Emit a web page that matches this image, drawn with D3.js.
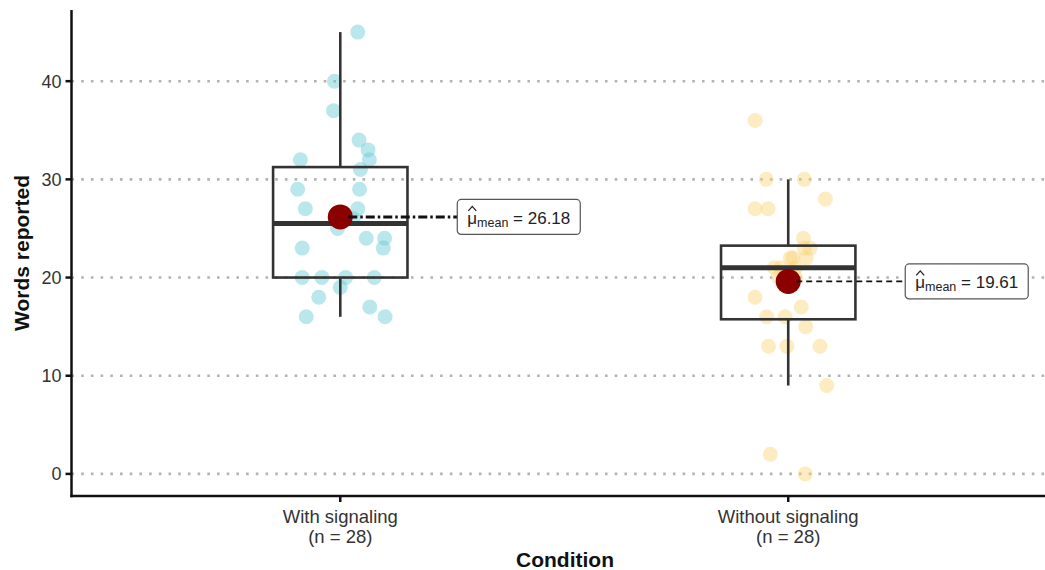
<!DOCTYPE html>
<html>
<head>
<meta charset="utf-8">
<script src="https://cdn.jsdelivr.net/npm/d3@7"></script>
<style>
  body { margin: 0; background: #ffffff; }
  svg { display: block; font-family: "Liberation Sans", Arial, Helvetica, sans-serif; }
</style>
</head>
<body>
<svg id="chart" width="1045" height="570"></svg>
<script>
// ---- data ----
const conditions = ["With signaling", "Without signaling"];
const sampleSizes = [28, 28];

const withSignaling = [45, 40, 37, 34, 33, 32, 32, 31, 29, 29, 27, 27, 26, 26,
                       25, 24, 24, 23, 23, 20, 20, 20, 20, 19, 18, 17, 16, 16];
const withoutSignaling = [36, 30, 30, 28, 27, 27, 24, 23, 23, 22, 22, 22, 21, 21,
                          21, 20, 20, 18, 17, 16, 16, 15, 13, 13, 13, 9, 2, 0];

// horizontal jitter of each observation, in category units
const jitterWith = [0.039, -0.013, -0.015, 0.042, 0.062, 0.065, -0.089, 0.045, -0.095, 0.043,
                    -0.078, 0.039, -0.011, 0.029, -0.006, 0.058, 0.099, -0.085, 0.096, -0.085,
                    -0.041, 0.012, 0.076, 0.000, -0.048, 0.066, -0.076, 0.100];
const jitterWithout = [-0.074, -0.049, 0.036, 0.083, -0.074, -0.045, 0.034, 0.049, 0.036, 0.005,
                       0.040, 0.011, -0.031, -0.016, 0.016, -0.022, 0.016, -0.074, 0.029, -0.048,
                       -0.007, 0.039, -0.044, -0.003, 0.071, 0.086, -0.040, 0.038];

const yTicks = [0, 10, 20, 30, 40];
const pointColors = ["#66C9D2", "#FBD276"];

const groups = [
  { name: conditions[0], n: sampleSizes[0], values: withSignaling, jitter: jitterWith, color: pointColors[0] },
  { name: conditions[1], n: sampleSizes[1], values: withoutSignaling, jitter: jitterWithout, color: pointColors[1] }
];

// ---- layout ----
const svg = d3.select("#chart");
const W = 1045, H = 570;
const panel = { left: 71.5, top: 10, bottom: 496 };

const yMax = d3.max(groups, g => d3.max(g.values));
const yMin = d3.min(groups, g => d3.min(g.values));
const pad = (yMax - yMin) * 0.05;
const y = d3.scaleLinear().domain([yMin - pad, yMax + pad]).range([panel.bottom, panel.top]);
const x = d3.scaleLinear().domain([0.4, 2.6]).range([panel.left, 1057]);

// ---- grid ----
svg.append("g").selectAll("line").data(yTicks).join("line")
  .attr("x1", panel.left).attr("x2", W)
  .attr("y1", d => y(d)).attr("y2", d => y(d))
  .attr("stroke", "#b3b3b3").attr("stroke-width", 2.6)
  .attr("stroke-dasharray", "2.6,7.1");

// ---- points ----
groups.forEach((g, i) => {
  svg.append("g").selectAll("circle").data(g.values).join("circle")
    .attr("cx", (d, j) => x(i + 1 + g.jitter[j]))
    .attr("cy", d => y(d))
    .attr("r", 7.5)
    .attr("fill", g.color)
    .attr("fill-opacity", 0.45);
});

// ---- boxplots ----
const boxHalf = 0.15;
groups.forEach((g, i) => {
  const s = g.values.slice().sort(d3.ascending);
  const q1 = d3.quantile(s, 0.25), med = d3.quantile(s, 0.5), q3 = d3.quantile(s, 0.75);
  const iqr = q3 - q1;
  const lo = d3.min(s.filter(v => v >= q1 - 1.5 * iqr));
  const hi = d3.max(s.filter(v => v <= q3 + 1.5 * iqr));
  const cx = x(i + 1), xl = x(i + 1 - boxHalf), xr = x(i + 1 + boxHalf);
  const b = svg.append("g").attr("stroke", "#333333").attr("fill", "none");
  b.append("line").attr("x1", cx).attr("x2", cx).attr("y1", y(q3)).attr("y2", y(hi)).attr("stroke-width", 2.6);
  b.append("line").attr("x1", cx).attr("x2", cx).attr("y1", y(q1)).attr("y2", y(lo)).attr("stroke-width", 2.6);
  b.append("rect").attr("x", xl).attr("y", y(q3)).attr("width", xr - xl).attr("height", y(q1) - y(q3))
    .attr("stroke-width", 2.6);
  b.append("line").attr("x1", xl).attr("x2", xr).attr("y1", y(med)).attr("y2", y(med)).attr("stroke-width", 5);
});

// ---- means and labels ----
const labelDash = ["9,3,2.5,3", "6,4"];
const labelWidth = [3, 1.6];
groups.forEach((g, i) => {
  const m = d3.mean(g.values);
  const cx = x(i + 1), cy = y(m);
  const bx = cx + 117;
  svg.append("circle").attr("cx", cx).attr("cy", cy).attr("r", 12.5).attr("fill", "#8B0000");
  svg.append("line").attr("x1", cx + 8).attr("x2", bx).attr("y1", cy).attr("y2", cy)
    .attr("stroke", "#111").attr("stroke-width", labelWidth[i]).attr("stroke-dasharray", labelDash[i]);

  const lg = svg.append("g").attr("transform", `translate(${bx},${cy})`);
  const box = lg.append("rect").attr("x", 0).attr("y", -17.5).attr("height", 35)
    .attr("rx", 4).attr("fill", "#fff").attr("stroke", "#555").attr("stroke-width", 1.2);
  const t = lg.append("text").attr("x", 10).attr("y", 7).attr("fill", "#222").attr("font-size", 17);
  t.append("tspan").text("μ");
  t.append("tspan").attr("font-size", 12.5).attr("dy", 3).text("mean");
  t.append("tspan").attr("dy", -3).text(" = " + d3.format(".2f")(m));
  const tw = t.node().getComputedTextLength();
  box.attr("width", tw + 20);
  // hat over mu
  lg.append("path").attr("d", "M11,-6 L15,-10.5 L19,-6")
    .attr("fill", "none").attr("stroke", "#222").attr("stroke-width", 1.3);
});

// ---- axes ----
const axisG = svg.append("g");
axisG.append("line").attr("x1", panel.left).attr("x2", panel.left).attr("y1", panel.top).attr("y2", panel.bottom + 1.2)
  .attr("stroke", "#111").attr("stroke-width", 2.5);
axisG.append("line").attr("x1", panel.left - 1.2).attr("x2", W).attr("y1", panel.bottom).attr("y2", panel.bottom)
  .attr("stroke", "#111").attr("stroke-width", 2.5);

axisG.selectAll(".yt").data(yTicks).join("line")
  .attr("x1", panel.left - 6).attr("x2", panel.left).attr("y1", d => y(d)).attr("y2", d => y(d))
  .attr("stroke", "#111").attr("stroke-width", 2.5);
axisG.selectAll(".yl").data(yTicks).join("text")
  .attr("x", panel.left - 10).attr("y", d => y(d) + 6.5).attr("text-anchor", "end")
  .attr("font-size", 18).attr("fill", "#333").text(d => d);

axisG.selectAll(".xt").data(groups).join("line")
  .attr("x1", (d, i) => x(i + 1)).attr("x2", (d, i) => x(i + 1))
  .attr("y1", panel.bottom).attr("y2", panel.bottom + 6)
  .attr("stroke", "#111").attr("stroke-width", 2.5);
const xl = axisG.selectAll(".xl").data(groups).join("text")
  .attr("text-anchor", "middle").attr("font-size", 18.5).attr("fill", "#333");
xl.append("tspan").attr("x", (d, i) => x(i + 1)).attr("y", 523).text(d => d.name);
xl.append("tspan").attr("x", (d, i) => x(i + 1)).attr("y", 543).text(d => `(n = ${d.n})`);

svg.append("text").attr("x", 565).attr("y", 567).attr("text-anchor", "middle")
  .attr("font-size", 21).attr("font-weight", "bold").attr("fill", "#111").text("Condition");
svg.append("text").attr("transform", `translate(29,${(panel.top + panel.bottom) / 2}) rotate(-90)`)
  .attr("text-anchor", "middle").attr("font-size", 21).attr("font-weight", "bold").attr("fill", "#111")
  .text("Words reported");
</script>
</body>
</html>
